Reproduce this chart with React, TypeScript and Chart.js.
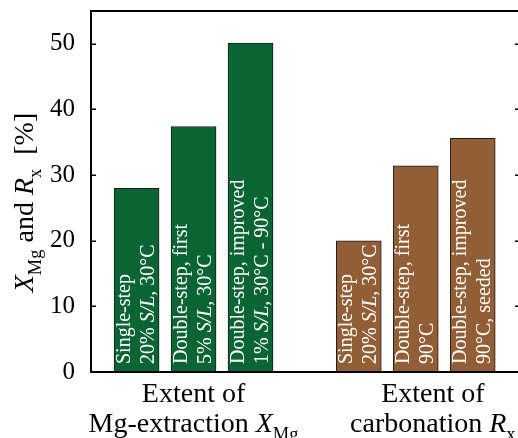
import React, { useEffect, useRef } from "react";
import { Chart, registerables } from "chart.js";

Chart.register(...registerables);

// ---- data ----
const extractionPositions = [1, 2, 3];
const extractionValues = [28, 37.4, 50.1];
const carbonationPositions = [4.9, 5.9, 6.9];
const carbonationValues = [20, 31.4, 35.6];

const extractionBarLabels = [
  ["Single-step", "20% *S/L*, 30°C"],
  ["Double-step, first", "5% *S/L*, 30°C"],
  ["Double-step, improved", "1% *S/L*, 30°C - 90°C"],
];
const carbonationBarLabels = [
  ["Single-step", "20% *S/L*, 30°C"],
  ["Double-step, first", "90°C"],
  ["Double-step, improved", "90°C, seeded"],
];

const groupLabelPositions = [2, 6.2];
const groupLabels = [
  ["Extent of", "Mg-extraction *X*~Mg~"],
  ["Extent of", "carbonation *R*~x~"],
];

const yTickValues = [0, 10, 20, 30, 40, 50];
const yAxisTitle = "*X*~Mg~ and *R*~x~  [%]";

const GREEN = "#0a6433";
const BROWN = "#925e35";
const FONT = "'Liberation Serif', 'Times New Roman', serif";

type Seg = { text: string; italic: boolean; sub: boolean };

function parseRich(s: string): Seg[] {
  const segs: Seg[] = [];
  let italic = false;
  let sub = false;
  let cur = "";
  for (const ch of s) {
    if (ch === "*" || ch === "~") {
      if (cur) segs.push({ text: cur, italic, sub });
      cur = "";
      if (ch === "*") italic = !italic;
      else sub = !sub;
    } else cur += ch;
  }
  if (cur) segs.push({ text: cur, italic, sub });
  return segs;
}

function segFont(seg: Seg, size: number) {
  const sz = seg.sub ? size * 0.66 : size;
  return `${seg.italic ? "italic " : ""}${sz}px ${FONT}`;
}

function drawRich(
  ctx: CanvasRenderingContext2D,
  s: string,
  x: number,
  y: number,
  size: number,
  align: "left" | "center"
) {
  const segs = parseRich(s);
  let total = 0;
  const widths = segs.map((seg) => {
    ctx.font = segFont(seg, size);
    const w = ctx.measureText(seg.text).width;
    total += w;
    return w;
  });
  let cx = align === "center" ? x - total / 2 : x;
  ctx.textAlign = "left";
  ctx.textBaseline = "alphabetic";
  segs.forEach((seg, i) => {
    ctx.font = segFont(seg, size);
    ctx.fillText(seg.text, cx, y + (seg.sub ? size * 0.28 : 0));
    cx += widths[i];
  });
}

const decorPlugin = {
  id: "decor",
  afterDraw(chart: any) {
    const ctx: CanvasRenderingContext2D = chart.ctx;
    const { left, right, top, bottom } = chart.chartArea;
    const yScale = chart.scales.y;
    const xScale = chart.scales.x;
    ctx.save();

    // bar annotations (rotated, white)
    const allLabels = [extractionBarLabels, carbonationBarLabels];
    allLabels.forEach((labels, di) => {
      const meta = chart.getDatasetMeta(di);
      meta.data.forEach((bar: any, i: number) => {
        const lines = labels[i];
        const yBase = yScale.getPixelForValue(0) - 8;
        const offsets = [-6.3, 17.2];
        lines.forEach((line, li) => {
          ctx.save();
          ctx.translate(bar.x + offsets[li], yBase);
          ctx.rotate(-Math.PI / 2);
          ctx.fillStyle = "#ffffff";
          drawRich(ctx, line, 0, 0, 20, "left");
          ctx.restore();
        });
      });
    });

    // frame
    ctx.strokeStyle = "#000";
    ctx.lineWidth = 2;
    ctx.strokeRect(left, top, right - left, bottom - top);

    // inward ticks on both sides
    ctx.lineWidth = 1.5;
    yScale.ticks.forEach((t: any) => {
      if (t.value === 0) return;
      const py = Math.round(yScale.getPixelForValue(t.value)) + 0.25;
      ctx.beginPath();
      ctx.moveTo(left, py);
      ctx.lineTo(left + 5, py);
      ctx.moveTo(right, py);
      ctx.lineTo(right - 5, py);
      ctx.stroke();
    });

    // group labels under the axis
    ctx.fillStyle = "#000";
    groupLabels.forEach((lines, gi) => {
      const px = xScale.getPixelForValue(groupLabelPositions[gi]);
      lines.forEach((line, li) => {
        drawRich(ctx, line, px, bottom + 30 + li * 30, 28, "center");
      });
    });

    // y-axis title
    ctx.save();
    ctx.translate(33, (top + bottom) / 2 + 11);
    ctx.rotate(-Math.PI / 2);
    drawRich(ctx, yAxisTitle, 0, 0, 28, "center");
    ctx.restore();

    ctx.restore();
  },
};

export default function App() {
  const canvasRef = useRef<HTMLCanvasElement | null>(null);

  useEffect(() => {
    const canvas = canvasRef.current;
    if (!canvas) return;
    const chart = new Chart(canvas, {
      type: "bar",
      data: {
        datasets: [
          {
            label: "Extent of Mg-extraction",
            data: extractionPositions.map((x, i) => ({ x, y: extractionValues[i] })),
            backgroundColor: GREEN,
            borderColor: "#1c1c1c",
            borderWidth: 1,
            barThickness: 45,
            grouped: false,
          } as any,
          {
            label: "Extent of carbonation",
            data: carbonationPositions.map((x, i) => ({ x, y: carbonationValues[i] })),
            backgroundColor: BROWN,
            borderColor: "#1c1c1c",
            borderWidth: 1,
            barThickness: 45,
            grouped: false,
          } as any,
        ],
      },
      options: {
        animation: false,
        responsive: false,
        devicePixelRatio: 1,
        layout: { padding: { top: 11, right: 10, bottom: 66, left: 0 } },
        plugins: {
          legend: { display: false },
          tooltip: { enabled: false },
        },
        scales: {
          x: {
            type: "linear",
            min: 0.2,
            max: 7.73,
            offset: false,
            display: false,
          },
          y: {
            min: 0,
            max: 55,
            grid: { display: false },
            border: { display: false },
            ticks: {
              color: "#000",
              padding: 8,
              font: { family: FONT, size: 25 },
            },
            afterBuildTicks: (s: any) => {
              s.ticks = yTickValues.map((v) => ({ value: v }));
            },
            afterFit: (s: any) => {
              s.width = 91;
              s.paddingTop = 0;
              s.paddingBottom = 0;
            },
          },
        },
      } as any,
      plugins: [decorPlugin],
    });
    return () => chart.destroy();
  }, []);

  return (
    <div
      style={{
        position: "fixed",
        left: 0,
        top: 0,
        width: 518,
        height: 438,
        overflow: "hidden",
        background: "#fff",
      }}
    >
      <canvas
        ref={canvasRef}
        width={530}
        height={438}
        style={{ display: "block", width: 530, height: 438 }}
      />
    </div>
  );
}
